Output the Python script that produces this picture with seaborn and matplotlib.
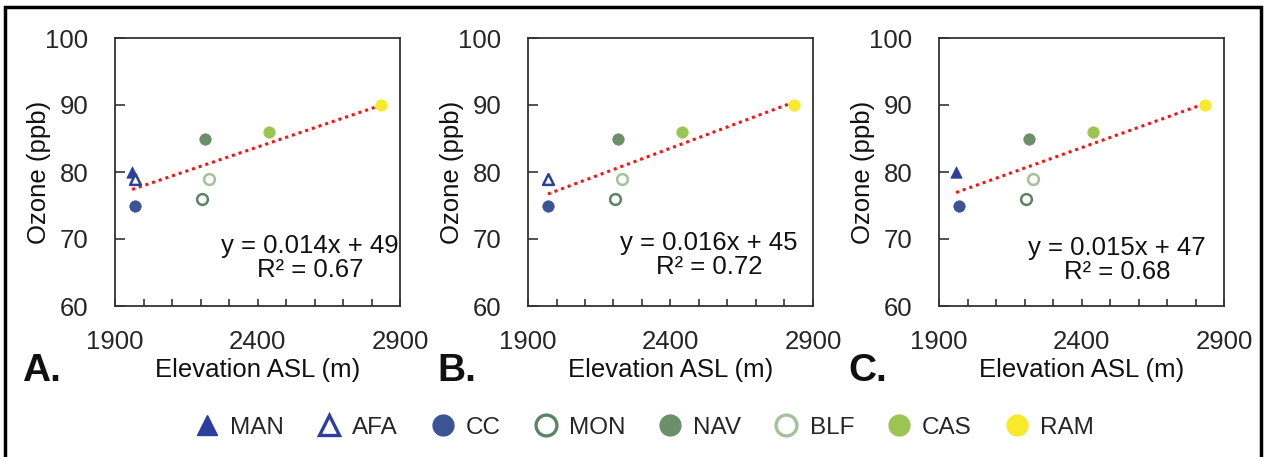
import numpy as np
import pandas as pd
import matplotlib
matplotlib.use("Agg")
import matplotlib.pyplot as plt
from matplotlib.lines import Line2D
from matplotlib.patches import Rectangle
import seaborn as sns

sns.set_theme(style="white")
plt.rcParams['font.family'] = ['Liberation Sans', 'DejaVu Sans']

# ---- data ----
sites = ["MAN", "AFA", "CC", "MON", "NAV", "BLF", "CAS", "RAM"]
elevation = [1960, 1970, 1970, 2205, 2215, 2230, 2440, 2835]
ozone_A = [80, 79, 75, 76, 85, 79, 86, 90]
ozone_B = [None, 79, 75, 76, 85, 79, 86, 90]
ozone_C = [80, None, 75, 76, 85, 79, 86, 90]
equations = ["y = 0.014x + 49\nR\u00b2 = 0.67",
             "y = 0.016x + 45\nR\u00b2 = 0.72",
             "y = 0.015x + 47\nR\u00b2 = 0.68"]
panel_letters = ["A.", "B.", "C."]

site_colors = {"MAN": "#2c3f9c", "AFA": "#2c3f9c", "CC": "#3c5396",
               "MON": "#5a8563", "NAV": "#6a8f69", "BLF": "#a3c29c",
               "CAS": "#9cc452", "RAM": "#f7ea2a"}
site_marker = {"MAN": "^", "AFA": "^", "CC": "o", "MON": "o",
               "NAV": "o", "BLF": "o", "CAS": "o", "RAM": "o"}
site_open = {"MAN": False, "AFA": True, "CC": False, "MON": True,
             "NAV": False, "BLF": True, "CAS": False, "RAM": False}

fig = plt.figure(figsize=(12.66, 4.57), dpi=100)

lefts = [115, 528, 939]
eq_pos = [(0.685, 0.18), (0.635, 0.19), (0.625, 0.17)]
letter_x = [22, 437, 848]

for i, oz in enumerate([ozone_A, ozone_B, ozone_C]):
    ax = fig.add_axes([lefts[i] / 1266, 1 - 306 / 457, 285 / 1266, 268 / 457])
    df = pd.DataFrame({"site": sites, "elev": elevation, "ozone": oz}).dropna()
    df["ozone"] = df["ozone"].astype(float)
    sns.regplot(data=df, x="elev", y="ozone", ax=ax, scatter=False, ci=None,
                truncate=True,
                line_kws=dict(color="#ff1010", linestyle=(0, (1, 1.3)), lw=2.2))
    for _, r in df.iterrows():
        s = r["site"]
        c = site_colors[s]
        sub = df[df["site"] == s]
        if site_open[s]:
            sns.scatterplot(data=sub, x="elev", y="ozone", ax=ax,
                            marker=site_marker[s], s=60, facecolor="white",
                            edgecolor=c, linewidth=1.8, zorder=3)
        else:
            sns.scatterplot(data=sub, x="elev", y="ozone", ax=ax,
                            marker=site_marker[s], s=68, color=c,
                            edgecolor=c, linewidth=0.5, zorder=3)
    ax.set_xlim(1900, 2900)
    ax.set_ylim(60, 100)
    ax.set_xticks([1900, 2400, 2900])
    ax.set_xticks(np.arange(1900, 2901, 100), minor=True)
    ax.set_yticks([60, 70, 80, 90, 100])
    ax.tick_params(axis="x", which="both", direction="in", length=5, width=1.2,
                   color="#333333", pad=17, labelsize=18.5, bottom=True)
    ax.tick_params(axis="y", which="both", direction="in", length=7, width=1.2,
                   color="#333333", pad=19, labelsize=18.5, left=True)
    for sp in ax.spines.values():
        sp.set_color("#333333")
        sp.set_linewidth(1.3)
        sp.set_visible(True)
    ax.set_xlabel("Elevation ASL (m)", fontsize=18.5, color="#111111")
    ax.set_ylabel("Ozone (ppb)", fontsize=18.5, color="#111111")
    ax.xaxis.set_label_coords(0.5, -0.195)
    ax.xaxis.label.set_va("top")
    ax.yaxis.set_label_coords(-0.265, 0.5)
    ax.yaxis.label.set_va("center")
    ax.text(eq_pos[i][0], eq_pos[i][1], equations[i], transform=ax.transAxes,
            ha="center", va="center", fontsize=18.5, linespacing=1.0,
            color="#111111")
    fig.text(letter_x[i] / 1266, 1 - 371 / 457, panel_letters[i],
             fontsize=28, fontweight="bold", ha="left", va="center",
             color="#111111")

# legend
handles = []
for s in sites:
    c = site_colors[s]
    if site_open[s]:
        h = Line2D([], [], linestyle="none", marker=site_marker[s],
                   markersize=15, markerfacecolor="white",
                   markeredgecolor=c, markeredgewidth=2.4)
    else:
        h = Line2D([], [], linestyle="none", marker=site_marker[s],
                   markersize=15, markerfacecolor=c, markeredgecolor=c)
    handles.append(h)
fig.legend(handles, sites, loc="center", bbox_to_anchor=(0.508, 1 - 428 / 457),
           ncol=8, frameon=False, fontsize=17.5, handletextpad=0.35,
           columnspacing=1.25, handlelength=1.2)

# outer frame
fig.patches.append(Rectangle((5 / 1266, -0.05), 1256 / 1266, 1.05 - 7 / 457,
                             transform=fig.transFigure, fill=False,
                             edgecolor="black", linewidth=2.5))

fig.savefig("out.png", dpi=100)
